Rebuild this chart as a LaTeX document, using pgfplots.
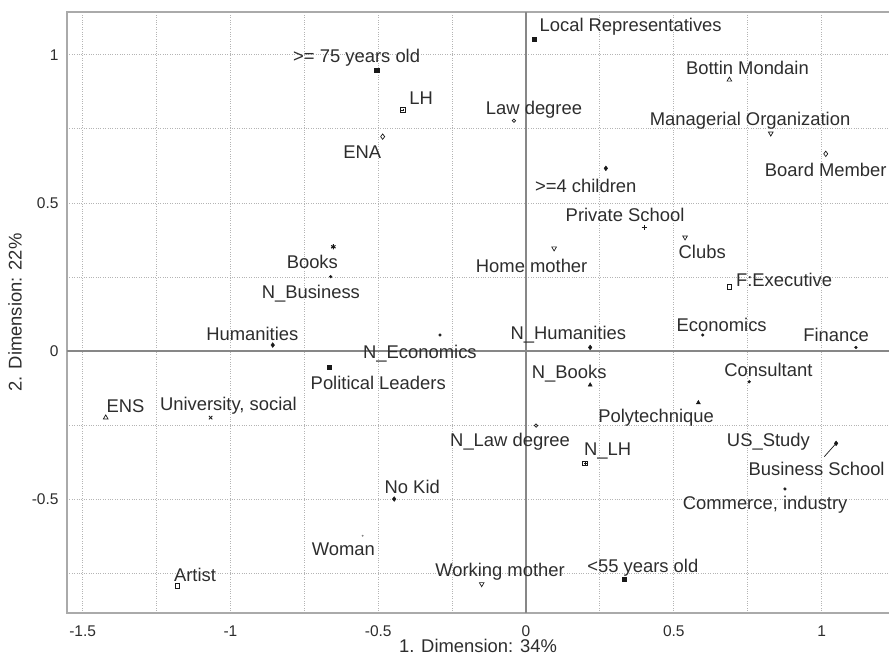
\documentclass[border=0pt]{standalone}
\usepackage{fontspec}
\setmainfont{Liberation Sans}
\usepackage{pgfplots}
\pgfplotsset{compat=1.18}
\definecolor{txt}{RGB}{45,45,45}
\definecolor{framec}{RGB}{170,170,170}
\definecolor{zeroc}{RGB}{135,135,135}
\definecolor{gridc}{RGB}{180,180,180}
\definecolor{mk}{RGB}{25,25,25}
\tikzset{lab/.style={font=\fontsize{18.4bp}{22bp}\selectfont, text=txt, inner sep=0pt}}
\begin{document}
\begin{tikzpicture}
\begin{axis}[
  scale only axis, width=822bp, height=601bp,
  at={(0,0)}, anchor=south west,
  xmin=-1.553, xmax=1.228, ymin=-0.885, ymax=1.145,
  xtick={-1.5,-1,-0.5,0,0.5,1}, ytick={-0.5,0,0.5,1},
  minor xtick={-1.25,-0.75,-0.25,0.25,0.75},
  minor ytick={-0.75,-0.25,0.25,0.75},
  grid=both,
  major grid style={gridc, dotted, line width=0.9pt},
  minor grid style={gridc, dotted, line width=0.9pt},
  major tick length=0, minor tick length=0,
  axis line style={draw=none},
  tick label style={font=\fontsize{15.5bp}{18bp}\selectfont, text=txt},
  /pgf/number format/assume math mode=true,
  xticklabel style={yshift=-9bp},
  yticklabel style={xshift=-5bp},
  clip=false,
  mark options={solid, mk},
]
% filled squares
\addplot[only marks, mark=square*, mark size=2.1bp, mk] coordinates {(-0.505,0.949) (0.027,1.054) (-0.665,-0.055) (0.332,-0.771)};
% open squares
\addplot[only marks, mark=square, mark size=2.3bp, mk, mark options={line width=0.8pt}] coordinates {(-0.417,0.814) (0.688,0.217) (-1.18,-0.794) (0.200,-0.380)};
% boxed plus overlay
\addplot[only marks, mark=+, mark size=1.4bp, mk] coordinates {(-0.417,0.814) (0.200,-0.380)};
% open diamonds
\addplot[only marks, mark=diamond, mark size=2.7bp, mk, mark options={line width=0.7pt}] coordinates {(-0.485,0.724) (1.014,0.666)};
% asterisk
\addplot[only marks, mark=asterisk, mark size=2.6bp, mk, mark options={line width=1pt}] coordinates {(-0.652,0.352)};
% dots
\addplot[only marks, mark=*, mark size=1.4bp, mk] coordinates {(-0.661,0.251) (-0.291,0.054) (0.598,0.054) (1.116,0.012) (0.755,-0.104) (0.876,-0.466)};
% open triangles
\addplot[only marks, mark=triangle, mark size=2.7bp, mk, mark options={line width=0.7pt}] coordinates {(0.688,0.916) (-1.422,-0.225)};
% small circles
\addplot[only marks, mark=o, mark size=1.7bp, mk, mark options={line width=0.7pt}] coordinates {(-0.041,0.778) (0.034,-0.252)};
% inverted open triangles
\addplot[only marks, mark=triangle, mark size=2.7bp, mk, mark options={rotate=180, line width=0.7pt}] coordinates {(0.828,0.735) (0.538,0.384) (0.095,0.347) (-0.150,-0.787)};
% filled diamonds
\addplot[only marks, mark=diamond*, mark size=2.4bp, mk] coordinates {(0.270,0.617) (-0.446,-0.500) (1.049,-0.312) (-0.857,0.020) (0.217,0.012)};
% plus
\addplot[only marks, mark=+, mark size=2.6bp, mk, mark options={line width=0.8pt}] coordinates {(0.400,0.417)};
% cross
\addplot[only marks, mark=x, mark size=2.4bp, mk, mark options={line width=0.8pt}] coordinates {(-1.067,-0.225)};
% faint dot (Woman)
\addplot[only marks, mark=*, mark size=0.7bp, gray, mark options={gray}] coordinates {(-0.553,-0.624)};
% filled triangles
\addplot[only marks, mark=triangle*, mark size=2.4bp, mk] coordinates {(0.217,-0.115) (0.583,-0.175)};

% frame and zero lines
\draw[framec, line width=1.5pt] (rel axis cs:1,1) -- (rel axis cs:0,1) -- (rel axis cs:0,0) -- (rel axis cs:1,0);
\draw[zeroc, line width=1.1pt] (axis cs:0,-0.885) -- (axis cs:0,1.145);
\draw[zeroc, line width=1.1pt] (axis cs:-1.553,0) -- (axis cs:1.228,0);

% leader line
\draw[mk, line width=0.7pt] (axis cs:1.009,-0.357) -- (axis cs:1.049,-0.312);

% labels
\node[lab] at (axis cs:-0.573,0.989) {>= 75 years old};
\node[lab] at (axis cs:-0.355,0.854) {LH};
\node[lab] at (axis cs:-0.554,0.670) {ENA};
\node[lab] at (axis cs:-0.723,0.300) {Books};
\node[lab] at (axis cs:-0.728,0.195) {N\_Business};
\node[lab] at (axis cs:0.354,1.096) {Local Representatives};
\node[lab] at (axis cs:0.749,0.957) {Bottin Mondain};
\node[lab] at (axis cs:0.027,0.814) {Law degree};
\node[lab] at (axis cs:0.758,0.778) {Managerial Organization};
\node[lab] at (axis cs:1.014,0.611) {Board Member};
\node[lab] at (axis cs:0.202,0.558) {>=4 children};
\node[lab] at (axis cs:0.335,0.459) {Private School};
\node[lab] at (axis cs:0.596,0.333) {Clubs};
\node[lab] at (axis cs:0.019,0.288) {Home mother};
\node[lab] at (axis cs:0.873,0.240) {F:Executive};
\node[lab] at (axis cs:-0.926,0.057) {Humanities};
\node[lab] at (axis cs:-0.359,-0.008) {N\_Economics};
\node[lab] at (axis cs:-0.500,-0.109) {Political Leaders};
\node[lab] at (axis cs:-1.355,-0.186) {ENS};
\node[lab] at (axis cs:-1.007,-0.186) {University, social};
\node[lab] at (axis cs:-0.385,-0.458) {No Kid};
\node[lab] at (axis cs:-0.618,-0.670) {Woman};
\node[lab] at (axis cs:-1.120,-0.757) {Artist};
\node[lab] at (axis cs:-0.088,-0.747) {Working mother};
\node[lab] at (axis cs:0.143,0.054) {N\_Humanities};
\node[lab] at (axis cs:0.662,0.088) {Economics};
\node[lab] at (axis cs:1.049,0.054) {Finance};
\node[lab] at (axis cs:0.820,-0.064) {Consultant};
\node[lab] at (axis cs:0.146,-0.075) {N\_Books};
\node[lab] at (axis cs:0.440,-0.227) {Polytechnique};
\node[lab] at (axis cs:-0.054,-0.308) {N\_Law degree};
\node[lab] at (axis cs:0.276,-0.338) {N\_LH};
\node[lab] at (axis cs:0.820,-0.306) {US\_Study};
\node[lab] at (axis cs:0.983,-0.399) {Business School};
\node[lab] at (axis cs:0.809,-0.518) {Commerce, industry};
\node[lab] at (axis cs:0.395,-0.732) {<55 years old};

% axis titles
\node[lab] at ([yshift=-33bp]rel axis cs:0.5,0) {1. Dimension: 34\%};
\node[lab, rotate=90] at ([xshift=-52bp]rel axis cs:0,0.5) {2. Dimension: 22\%};
\end{axis}
\pgfresetboundingbox
\path[use as bounding box] (-67bp,-48bp) rectangle (822bp,613bp);
\end{tikzpicture}
\end{document}
